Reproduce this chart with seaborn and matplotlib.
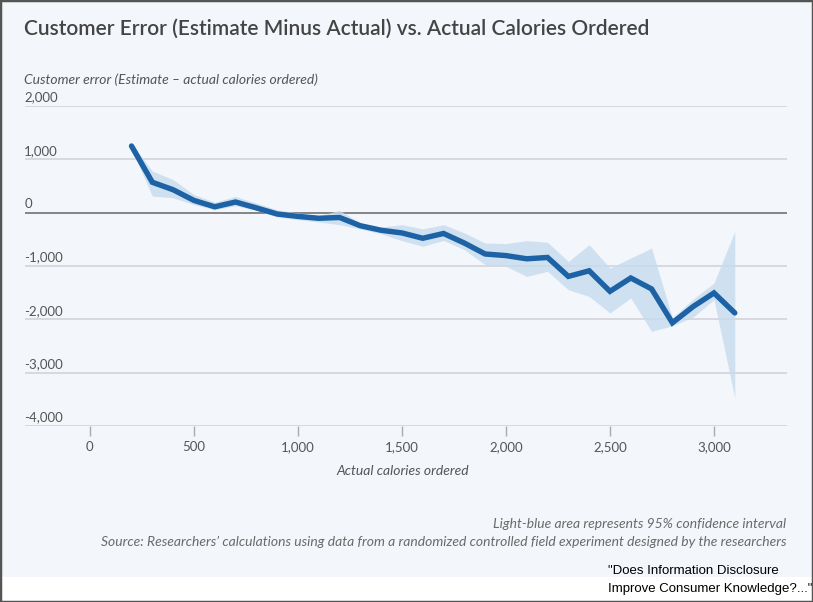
import numpy as np
import pandas as pd
import seaborn as sns
import matplotlib.pyplot as plt
from matplotlib.transforms import blended_transform_factory
from matplotlib.patches import Rectangle

# calories ordered (bins of 100) and mean customer error
calories = [200, 300, 400, 500, 600, 700, 800, 900, 1000, 1100, 1200, 1300, 1400, 1500,
            1600, 1700, 1800, 1900, 2000, 2100, 2200, 2300, 2400, 2500, 2600, 2700, 2800,
            2900, 3000, 3100]
error = [1250, 570, 430, 230, 110, 200, 90, -25, -70, -105, -90, -245, -330, -380,
         -480, -390, -570, -775, -805, -865, -840, -1195, -1090, -1475, -1225, -1430,
         -2065, -1760, -1505, -1880]
ci_low = [1200, 310, 280, 150, 55, 130, 45, -80, -130, -175, -225, -305, -395, -525,
          -630, -520, -695, -975, -1005, -1195, -1100, -1445, -1570, -1880, -1600,
          -2225, -2120, -1955, -1630, -3475]
ci_high = [1300, 780, 620, 340, 195, 305, 180, 55, -5, -60, 45, -195, -270, -225,
           -305, -225, -380, -570, -580, -525, -555, -915, -600, -1040, -850, -665,
           -1975, -1620, -1320, -350]

x_ticks = [0, 500, 1000, 1500, 2000, 2500, 3000]
y_ticks = [2000, 1000, 0, -1000, -2000, -3000, -4000]

df = pd.DataFrame({'calories': calories, 'error': error, 'low': ci_low, 'high': ci_high})

bg = '#f3f6fb'
sns.set_style('white')
plt.rcParams['font.family'] = ['Lato', 'DejaVu Sans']

fig = plt.figure(figsize=(8.13, 6.02), dpi=100, facecolor=bg)
ax = fig.add_axes([25 / 813, 1 - 426 / 602, 762 / 813, 320 / 602])
ax.set_facecolor(bg)

# confidence band and mean line
ax.fill_between(df['calories'], df['low'], df['high'], color='#c6dbee', alpha=0.8, lw=0)
sns.lineplot(data=df, x='calories', y='error', ax=ax, color='#1c62a5', linewidth=3.9,
             solid_joinstyle='miter')

ax.set_xlim(-312, 3351)
ax.set_ylim(-4000, 2000)
for s in ax.spines.values():
    s.set_visible(False)

# gridlines
for v in y_ticks:
    ax.axhline(v, color='#666666' if v == 0 else '#cfd1d6', lw=1.1, zorder=0.5)

ax.set_yticks([])
ax.set_xticks(x_ticks)
ax.set_xticklabels(['{:,}'.format(t) for t in x_ticks], color='#555555', fontsize=9.5)
ax.tick_params(axis='x', bottom=True, direction='out', length=7, width=1,
               color='#aaaaaa', pad=4)
ax.set_xlabel('')
ax.set_ylabel('')

trans = blended_transform_factory(ax.transAxes, ax.transData)
for v in y_ticks:
    ax.text(-0.001, v + 45, '{:,}'.format(v), transform=trans, ha='left', va='bottom',
            fontsize=9.5, color='#555555')

fig.text(403 / 813, 1 - 471 / 602, 'Actual calories ordered', ha='center', va='center',
         fontsize=10, style='italic', color='#555555')
fig.text(24 / 813, 1 - 80 / 602, 'Customer error (Estimate \u2013 actual calories ordered)',
         ha='left', va='center', fontsize=10, style='italic', color='#555555')
fig.text(24 / 813, 1 - 29 / 602,
         'Customer Error (Estimate Minus Actual) vs. Actual Calories Ordered',
         ha='left', va='center', fontsize=15, fontweight='semibold', color='#444444')

fig.text(786 / 813, 1 - 524 / 602, 'Light-blue area represents 95% confidence interval',
         ha='right', va='center', fontsize=10, style='italic', color='#6a6a6a')
fig.text(786 / 813, 1 - 542 / 602,
         'Source: Researchers\u2019 calculations using data from a randomized controlled field experiment designed by the researchers',
         ha='right', va='center', fontsize=10, style='italic', color='#6a6a6a')

# white strip and frame at bottom
fig.patches.append(Rectangle((0, 0), 1, 25 / 602, transform=fig.transFigure,
                             facecolor='white', edgecolor='none', zorder=1))
fig.text(608 / 813, 1 - 571 / 602, '"Does Information Disclosure', ha='left', va='center',
         fontsize=9.5, family='Liberation Sans', color='black', zorder=2)
fig.text(608 / 813, 1 - 589 / 602, 'Improve Consumer Knowledge?..."', ha='left', va='center',
         fontsize=9.5, family='Liberation Sans', color='black', zorder=2)
fig.patches.append(Rectangle((0, 0), 1, 1, transform=fig.transFigure, facecolor='none',
                             edgecolor='#555555', lw=2.5, zorder=3))

fig.savefig('out.png', dpi=100, facecolor=bg)
